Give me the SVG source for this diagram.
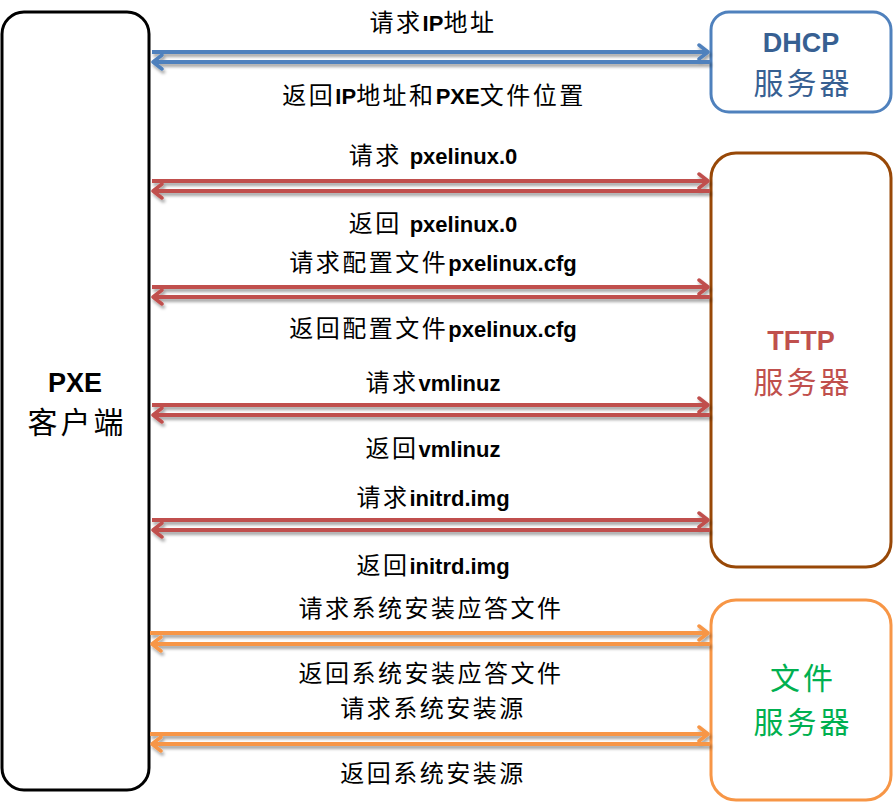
<svg xmlns="http://www.w3.org/2000/svg" width="894" height="803" viewBox="0 0 894 803">
<defs>
<style>
.lbl{font-family:"Noto Sans CJK SC","Liberation Sans",sans-serif;font-size:24px;fill:#000;text-anchor:middle;letter-spacing:2.5px}
.lat{font-family:"Liberation Sans","Noto Sans CJK SC",sans-serif;font-weight:bold;font-size:22px;letter-spacing:0}
.nt{font-family:"Noto Sans CJK SC",sans-serif;font-size:30px;text-anchor:middle;letter-spacing:3px}
.nb{font-family:"Liberation Sans",sans-serif;font-weight:bold;font-size:27px;text-anchor:middle}
.box{fill:#fff;stroke-width:3}
.ln{stroke-width:4;fill:none}
.b{stroke:#4F81BD}.r{stroke:#C0504D}.o{stroke:#F79646}
</style>
<filter id="sh" x="-5%" y="-100%" width="110%" height="300%">
<feDropShadow dx="1.5" dy="3" stdDeviation="1.5" flood-color="#000" flood-opacity="0.35"/>
</filter>
<marker id="mb" viewBox="-12 -9 14 18" markerWidth="14" markerHeight="18" refX="0" refY="0" orient="auto" markerUnits="userSpaceOnUse"><path d="M-9,-7 L0,0 L-9,7" fill="none" stroke="#4F81BD" stroke-width="3.5" stroke-linecap="round" stroke-linejoin="round"/></marker>
<marker id="mr" viewBox="-12 -9 14 18" markerWidth="14" markerHeight="18" refX="0" refY="0" orient="auto" markerUnits="userSpaceOnUse"><path d="M-9,-7 L0,0 L-9,7" fill="none" stroke="#C0504D" stroke-width="3.5" stroke-linecap="round" stroke-linejoin="round"/></marker>
<marker id="mo" viewBox="-12 -9 14 18" markerWidth="14" markerHeight="18" refX="0" refY="0" orient="auto" markerUnits="userSpaceOnUse"><path d="M-9,-7 L0,0 L-9,7" fill="none" stroke="#F79646" stroke-width="3.5" stroke-linecap="round" stroke-linejoin="round"/></marker>
</defs>
<rect width="894" height="803" fill="#fff"/>
<g id="client">
<rect class="box" x="2" y="12" width="147" height="778" rx="22" stroke="#000"/>
<text class="nb" x="75" y="392" fill="#000">PXE</text>
<text class="nt" x="77" y="433" fill="#000">客户端</text>
</g>
<g id="dhcp">
<rect class="box" x="711" y="12" width="180" height="100" rx="18" stroke="#4F81BD"/>
<text class="nb" x="801" y="52" fill="#376092">DHCP</text>
<text class="nt" x="803" y="94" fill="#376092">服务器</text>
</g>
<g id="tftp">
<rect class="box" x="711" y="153" width="180" height="414" rx="25" stroke="#984807"/>
<text class="nb" x="801" y="350" fill="#C0504D">TFTP</text>
<text class="nt" x="803" y="393" fill="#C0504D">服务器</text>
</g>
<g id="file">
<rect class="box" x="711" y="600" width="180" height="200" rx="25" stroke="#F79646"/>
<text class="nt" x="803" y="689" fill="#00B050">文件</text>
<text class="nt" x="803" y="733" fill="#00B050">服务器</text>
</g>
<g id="connectors" filter="url(#sh)">
<line class="ln b" x1="152" y1="52" x2="708" y2="52" marker-end="url(#mb)"/>
<line class="ln b" x1="710" y1="62" x2="153" y2="62" marker-end="url(#mb)"/>
<line class="ln r" x1="152" y1="181" x2="708" y2="181" marker-end="url(#mr)"/>
<line class="ln r" x1="710" y1="191" x2="153" y2="191" marker-end="url(#mr)"/>
<line class="ln r" x1="152" y1="287" x2="708" y2="287" marker-end="url(#mr)"/>
<line class="ln r" x1="710" y1="297" x2="153" y2="297" marker-end="url(#mr)"/>
<line class="ln r" x1="152" y1="405" x2="708" y2="405" marker-end="url(#mr)"/>
<line class="ln r" x1="710" y1="415" x2="153" y2="415" marker-end="url(#mr)"/>
<line class="ln r" x1="152" y1="520" x2="708" y2="520" marker-end="url(#mr)"/>
<line class="ln r" x1="710" y1="530" x2="153" y2="530" marker-end="url(#mr)"/>
<line class="ln o" x1="150" y1="633" x2="708" y2="633" marker-end="url(#mo)"/>
<line class="ln o" x1="710" y1="644" x2="152" y2="644" marker-end="url(#mo)"/>
<line class="ln o" x1="150" y1="734" x2="708" y2="734" marker-end="url(#mo)"/>
<line class="ln o" x1="710" y1="744" x2="152" y2="744" marker-end="url(#mo)"/>
</g>
<g id="labels">
<text class="lbl" x="433" y="31">请求<tspan class="lat">IP</tspan>地址</text>
<text class="lbl" x="434" y="104">返回<tspan class="lat">IP</tspan>地址和<tspan class="lat">PXE</tspan>文件位置</text>
<text class="lbl" x="433" y="164">请求 <tspan class="lat">pxelinux.0</tspan></text>
<text class="lbl" x="433" y="232">返回 <tspan class="lat">pxelinux.0</tspan></text>
<text class="lbl" x="433" y="271">请求配置文件<tspan class="lat">pxelinux.cfg</tspan></text>
<text class="lbl" x="433" y="337">返回配置文件<tspan class="lat">pxelinux.cfg</tspan></text>
<text class="lbl" x="433" y="391">请求<tspan class="lat">vmlinuz</tspan></text>
<text class="lbl" x="433" y="457">返回<tspan class="lat">vmlinuz</tspan></text>
<text class="lbl" x="433" y="506">请求<tspan class="lat">initrd.img</tspan></text>
<text class="lbl" x="433" y="574">返回<tspan class="lat">initrd.img</tspan></text>
<text class="lbl" x="431" y="617">请求系统安装应答文件</text>
<text class="lbl" x="431" y="682">返回系统安装应答文件</text>
<text class="lbl" x="433" y="717">请求系统安装源</text>
<text class="lbl" x="433" y="782">返回系统安装源</text>
</g>
</svg>
